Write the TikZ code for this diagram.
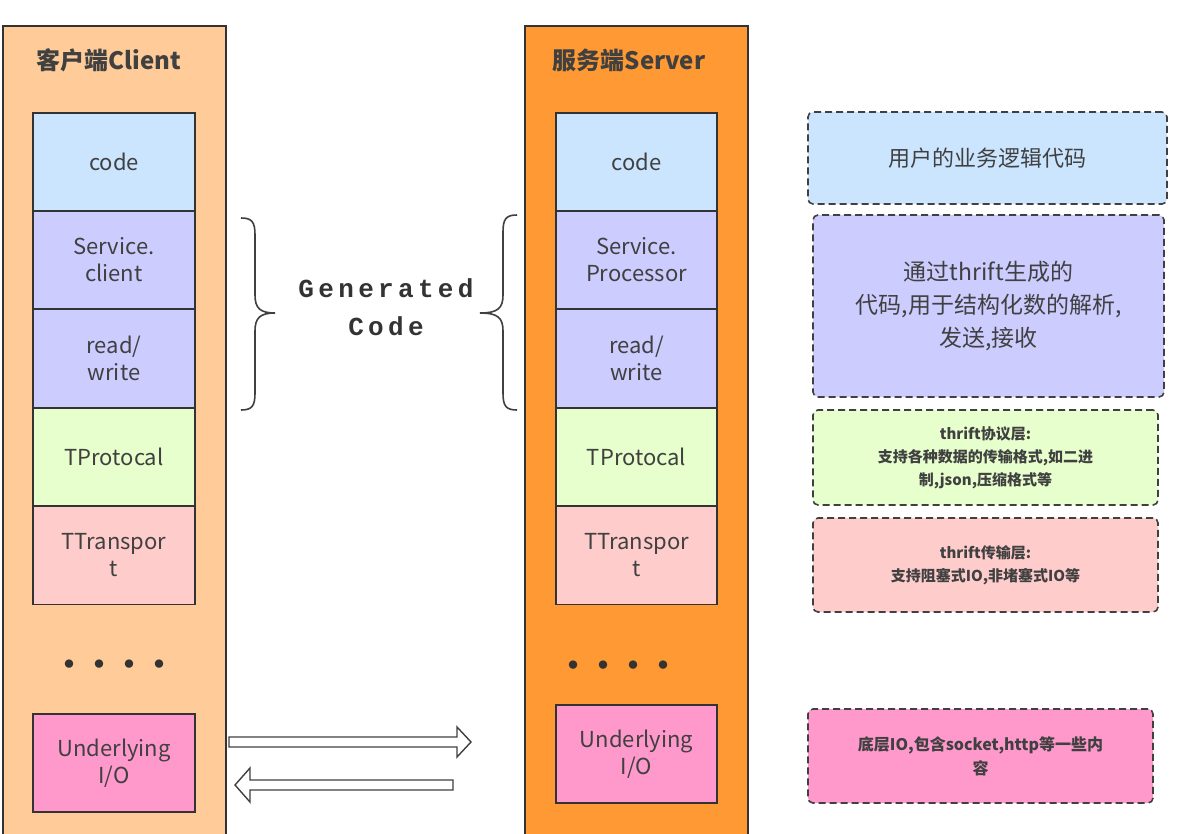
\documentclass[tikz,border=0pt]{standalone}
\usepackage{fontspec}
\setmainfont{Noto Sans CJK SC}
\newfontfamily\monob{Liberation Mono}
\begin{document}
\begin{tikzpicture}[x=1pt,y=-1pt,
  lay/.style={draw=black!80,line width=1.6pt,minimum width=162pt,minimum height=98pt,text=black!75,font=\fontsize{22}{27}\selectfont,align=center,inner sep=0pt},
  note/.style={draw=black!75,line width=1.6pt,dashed,dash pattern=on 7pt off 4pt,rounded corners=5pt,text=black!75,align=center,inner sep=0pt},
  col/.style={draw=black!80,line width=1.6pt},
  arr/.style={draw=black!75,line width=1.4pt,fill=white}]
\definecolor{cA}{HTML}{CCE5FF}\definecolor{cB}{HTML}{CCCCFF}\definecolor{cC}{HTML}{E6FFCC}
\definecolor{cD}{HTML}{FFCCCC}\definecolor{cE}{HTML}{FF99CC}
\definecolor{cl}{HTML}{FFCC99}\definecolor{sv}{HTML}{FF9933}
\useasboundingbox (0,0) rectangle (1183,833);
\fill[white] (0,0) rectangle (1183,833);
\draw[col,fill=cl] (3,840) -- (3,26) -- (226,26) -- (226,840);
\draw[col,fill=sv] (525,840) -- (525,26) -- (748,26) -- (748,840);
\node[font=\fontsize{24}{28}\selectfont\bfseries,text=black!75] (t1) at (109,60) {客户端Client};
\node[font=\fontsize{24}{28}\selectfont\bfseries,text=black!75] (t2) at (629,60) {服务端Server};
% client
\node[lay,fill=cA] (c1) at (114,162) {code};
\node[lay,fill=cB] (c2) at (114,260) {Service.\\client};
\node[lay,fill=cB] (c3) at (114,358.5) {read/\\write};
\node[lay,fill=cC] (c4) at (114,457) {TProtocal};
\node[lay,fill=cD] (c5) at (114,555.5) {TTranspor\\t};
\node[lay,fill=cE] (c6) at (114,763) {Underlying\\I/O};
\node[font=\fontsize{30}{30}\selectfont\bfseries,text=black!80] (d1) at (114,668) {····};
% server
\node[lay,fill=cA,minimum width=161pt] (s1) at (636.5,162) {code};
\node[lay,fill=cB,minimum width=161pt] (s2) at (636.5,260) {Service.\\Processor};
\node[lay,fill=cB,minimum width=161pt] (s3) at (636.5,358.5) {read/\\write};
\node[lay,fill=cC,minimum width=161pt] (s4) at (636.5,457) {TProtocal};
\node[lay,fill=cD,minimum width=161pt] (s5) at (636.5,555.5) {TTranspor\\t};
\node[lay,fill=cE,minimum width=161pt] (s6) at (636.5,754) {Underlying\\I/O};
\node[font=\fontsize{30}{30}\selectfont\bfseries,text=black!80] (d2) at (618,669) {····};
% braces
\draw[black!75,line width=1.6pt] (241,218) .. controls (252,218) and (255,222) .. (255,235) -- (255,295) .. controls (255,308) and (260,313) .. (275,313) .. controls (260,313) and (255,318) .. (255,331) -- (255,393) .. controls (255,406) and (252,410) .. (241,410);
\draw[black!75,line width=1.6pt] (517,215) .. controls (506,215) and (503,219) .. (503,232) -- (503,295) .. controls (503,308) and (498,313) .. (480,313) .. controls (498,313) and (503,318) .. (503,331) -- (503,393) .. controls (503,406) and (506,410) .. (517,410);
\node[font=\monob\fontsize{26}{38}\selectfont\bfseries,text=black!80,align=center] (g) at (386,307) {G\,e\,n\,e\,r\,a\,t\,e\,d\\C\,o\,d\,e};
% arrows
\draw[arr] (229,737) -- (457,737) -- (457,727) -- (471,742) -- (457,757) -- (457,747) -- (229,747) -- cycle;
\draw[arr] (453,780) -- (250,780) -- (250,768) -- (235,785) -- (250,802) -- (250,790) -- (453,790) -- cycle;
% notes
\node[note,fill=cA,minimum width=359pt,minimum height=92pt,font=\fontsize{22}{27}\selectfont] (n1) at (987.5,158) {用户的业务逻辑代码};
\node[note,fill=cB,minimum width=351pt,minimum height=182pt,font=\fontsize{23}{33}\selectfont] (n2) at (988.5,306) {通过thrift生成的\\代码,用于结构化数的解析,\\发送,接收};
\node[note,fill=cC,minimum width=345pt,minimum height=95pt,font=\fontsize{15}{23}\selectfont\bfseries] (n3) at (985.5,457.5) {thrift协议层:\\支持各种数据的传输格式,如二进\\制,json,压缩格式等};
\node[note,fill=cD,minimum width=345pt,minimum height=94pt,font=\fontsize{15}{23}\selectfont\bfseries] (n4) at (985.5,565) {thrift传输层:\\支持阻塞式IO,非堵塞式IO等};
\node[note,fill=cE,minimum width=345pt,minimum height=94pt,font=\fontsize{16}{24}\selectfont\bfseries] (n5) at (980.5,756) {底层IO,包含socket,http等一些内\\容};
\end{tikzpicture}
\end{document}
